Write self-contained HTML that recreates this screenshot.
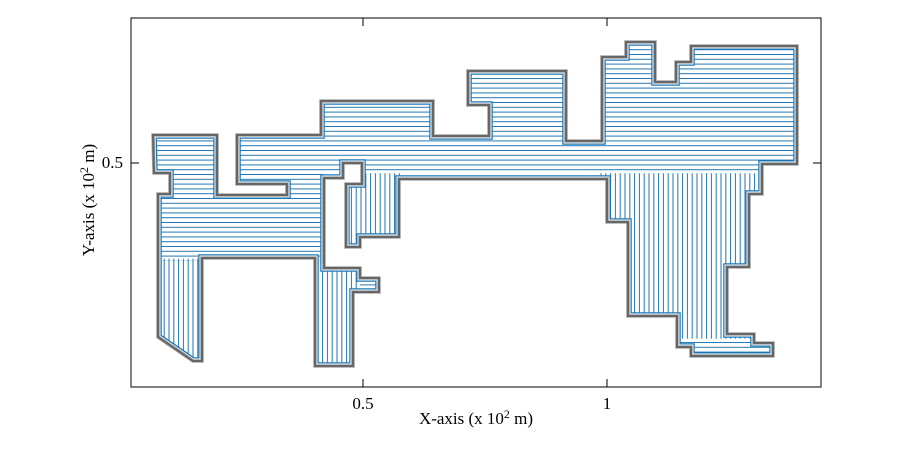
<!DOCTYPE html>
<html><head><meta charset="utf-8"><style>
body{margin:0;background:#fff}
svg text{font-family:"Liberation Serif",serif;font-size:17px;fill:#000}
</style></head><body>
<svg id="chart" width="900" height="450" xmlns="http://www.w3.org/2000/svg">
<defs>
<pattern id="hpat" patternUnits="userSpaceOnUse" x="0" y="1.2" width="10" height="4.8"><line x1="0" y1="0.5" x2="10" y2="0.5" stroke="#1f77b4" stroke-width="1"/></pattern>
<pattern id="vpat" patternUnits="userSpaceOnUse" x="0.5" y="0" width="4.8" height="10"><line x1="0.5" y1="0" x2="0.5" y2="10" stroke="#1f77b4" stroke-width="1"/></pattern>
<clipPath id="shapeClip"><polygon id="clipPoly"/></clipPath>
</defs>
<rect x="131" y="18" width="690" height="369" fill="#fff" stroke="#000" stroke-width="1"/>
<g id="marks"></g>
<g id="axes"></g>
<text x="476" y="424" text-anchor="middle">X-axis (x 10<tspan dy="-6" font-size="12">2</tspan><tspan dy="6"> m)</tspan></text>
<text transform="translate(94,200) rotate(-90)" text-anchor="middle">Y-axis (x 10<tspan dy="-6" font-size="12">2</tspan><tspan dy="6"> m)</tspan></text>
</svg>
<script>
// polygon outline in data units (x 10^2 m)
const polyX = [0.0697,0.2008,0.2008,0.3443,0.3443,0.2418,0.2418,0.4139,0.4139,0.6434,0.6434,0.7582,0.7582,0.7152,0.7152,0.9160,0.9160,0.9898,0.9898,1.0389,1.0389,1.0984,1.0984,1.1414,1.1414,1.1721,1.1721,1.3893,1.3893,1.3176,1.3176,1.2910,1.2910,1.2459,1.2459,1.3012,1.3012,1.3402,1.3402,1.1721,1.1721,1.1434,1.1434,1.0430,1.0430,1.0,1.0,0.5738,0.5738,0.4939,0.4939,0.4652,0.4652,0.4980,0.4980,0.4590,0.4590,0.4201,0.4201,0.4939,0.4939,0.5328,0.5328,0.4795,0.4795,0.4016,0.4016,0.1701,0.1701,0.1516,0.0799,0.0799,0.1045,0.1045,0.0717];
const polyY = [0.5574,0.5574,0.4344,0.4344,0.4570,0.4570,0.5574,0.5574,0.6270,0.6270,0.5553,0.5553,0.6189,0.6189,0.6885,0.6885,0.5451,0.5451,0.7172,0.7172,0.7480,0.7480,0.6660,0.6660,0.7070,0.7070,0.7398,0.7398,0.4980,0.4980,0.4365,0.4365,0.2869,0.2869,0.1496,0.1496,0.1311,0.1311,0.1045,0.1045,0.1230,0.1230,0.1865,0.1865,0.3791,0.3791,0.4672,0.4672,0.3484,0.3484,0.3279,0.3279,0.4570,0.4570,0.5,0.5,0.4693,0.4693,0.2848,0.2848,0.2643,0.2643,0.2357,0.2357,0.0840,0.0840,0.3053,0.3053,0.0943,0.0943,0.1434,0.4365,0.4365,0.4795,0.4795];
// hatch regions: [x0,x1,y0,y1] in data units
const hatchH = [[0.0,1.5,0.479,0.80],[0.0,0.420,0.300,0.479],[0.494,0.55,0.22,0.28],[1.14,1.36,0.09,0.14]];
const hatchV = [[0.06,0.19,0.08,0.304],[0.40,0.494,0.07,0.304],[0.46,0.58,0.32,0.479],[0.98,1.33,0.14,0.479]];
const xTicks = [0.5, 1];
const xTickLabels = ["0.5","1"];
const yTicks = [0.5];
const yTickLabels = ["0.5"];

const X = v => 363 + (v - 0.5) * 488;
const Y = v => 163 - (v - 0.5) * 488;
const NS = "http://www.w3.org/2000/svg";
const marks = document.getElementById('marks');
const axes = document.getElementById('axes');
const pts = polyX.map((x,i)=>X(x).toFixed(1)+','+Y(polyY[i]).toFixed(1)).join(' ');
document.getElementById('clipPoly').setAttribute('points', pts);

const hg = document.createElementNS(NS,'g');
hg.setAttribute('clip-path','url(#shapeClip)');
marks.appendChild(hg);
function addRect(r, fill, name){
  const el = document.createElementNS(NS,'rect');
  el.setAttribute('x', X(r[0])); el.setAttribute('width', X(r[1])-X(r[0]));
  el.setAttribute('y', Y(r[3])); el.setAttribute('height', Y(r[2])-Y(r[3]));
  el.setAttribute('fill', fill);
  
  
  hg.appendChild(el);
}
hatchH.forEach(r=>addRect(r,'url(#hpat)','horizontal-hatch'));
hatchV.forEach(r=>addRect(r,'url(#vpat)','vertical-hatch'));
function addPoly(stroke, w, clip, name){
  const p = document.createElementNS(NS,'polygon');
  p.setAttribute('points', pts);
  p.setAttribute('fill','none');
  p.setAttribute('stroke', stroke);
  p.setAttribute('stroke-width', w);
  
  
  (clip ? hg : marks).appendChild(p);
}
addPoly('#1f77b4', 7.5, true, 'inner-boundary');
addPoly('#ffffff', 5, true, 'boundary-gap');
addPoly('#aaaaaa', 3.6, false, 'outer-boundary-halo');
addPoly('#666666', 2.1, false, 'outer-boundary');

xTicks.forEach((t,i)=>{
  const x = X(t);
  [[387,379],[18,26]].forEach(([a,b])=>{
    const l = document.createElementNS(NS,'line');
    l.setAttribute('x1',x); l.setAttribute('x2',x); l.setAttribute('y1',a); l.setAttribute('y2',b);
    l.setAttribute('stroke','#000');
    
    
    axes.appendChild(l);
  });
  const tx = document.createElementNS(NS,'text');
  tx.setAttribute('x',x); tx.setAttribute('y',409); tx.setAttribute('text-anchor','middle');
  tx.textContent = xTickLabels[i];
  
  
  axes.appendChild(tx);
});
yTicks.forEach((t,i)=>{
  const y = Y(t);
  [[131,139],[821,813]].forEach(([a,b])=>{
    const l = document.createElementNS(NS,'line');
    l.setAttribute('x1',a); l.setAttribute('x2',b); l.setAttribute('y1',y); l.setAttribute('y2',y);
    l.setAttribute('stroke','#000');
    
    
    axes.appendChild(l);
  });
  const tx = document.createElementNS(NS,'text');
  tx.setAttribute('x',123); tx.setAttribute('y',y+5); tx.setAttribute('text-anchor','end');
  tx.textContent = yTickLabels[i];
  
  
  axes.appendChild(tx);
});
</script>
</body></html>
